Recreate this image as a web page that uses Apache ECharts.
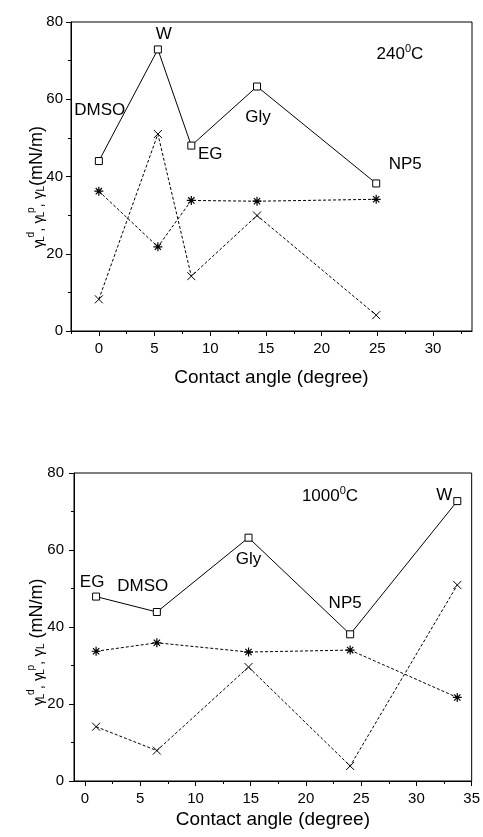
<!doctype html>
<html>
<head>
<meta charset="utf-8">
<title></title>
<script src="https://cdn.jsdelivr.net/npm/echarts@6/dist/echarts.min.js"></script>
<style>body{margin:0;background:#fff}</style>
</head>
<body>
<div id="chart" style="width:483px;height:837px;"></div>
<script>
// 240 C panel
var solvents240 = ['DMSO', 'W', 'EG', 'Gly', 'NP5'];
var angle240 = [0, 5.3, 8.3, 14.2, 24.9];
var total240 = [44.0, 72.9, 48.0, 63.3, 38.2];
var disp240 = [36.2, 21.8, 33.8, 33.6, 34.1];
var polar240 = [8.2, 51.0, 14.2, 29.9, 4.1];

// 1000 C panel
var solvents1000 = ['EG', 'DMSO', 'Gly', 'NP5', 'W'];
var angle1000 = [1.0, 6.5, 14.8, 24.0, 33.7];
var total1000 = [47.9, 43.9, 63.2, 38.1, 72.7];
var disp1000 = [33.7, 35.9, 33.5, 34.0, 21.7];
var polar1000 = [14.1, 7.9, 29.6, 3.9, 50.9];

var xMajor240 = [0, 5, 10, 15, 20, 25, 30];
var xMinor240 = [-2.5, 2.5, 7.5, 12.5, 17.5, 22.5, 27.5, 32.5];
var xMajor1000 = [0, 5, 10, 15, 20, 25, 30, 35];
var xMinor1000 = [2.5, 7.5, 12.5, 17.5, 22.5, 27.5, 32.5];

// label offsets (px) of the solvent names from their points
var labelOff240 = {DMSO: [1, -51], W: [6, -15], EG: [19, 9], Gly: [1, 31], NP5: [29, -19]};
var labelOff1000 = {EG: [-4, -14], DMSO: [-14, -26], Gly: [0, 22], NP5: [-5, -31], W: [-13, -6]};

var FONT = '"Liberation Sans", Arial, sans-serif';
var STAR = 'path://M5 0L5 10M0 5L10 5M1.5 1.5L8.5 8.5M8.5 1.5L1.5 8.5';
var CROSS = 'path://M0 0L10 10M10 0L0 10';

var chart = echarts.init(document.getElementById('chart'));

function makeSeries(xi, yi, names, angles, total, disp, polar, offs) {
    return [
        {
            type: 'line', xAxisIndex: xi, yAxisIndex: yi,
            symbol: 'rect', symbolSize: 7,
            itemStyle: {color: '#fff', borderColor: '#000', borderWidth: 1},
            lineStyle: {color: '#000', width: 1},
            label: {show: true, position: 'inside', formatter: '{b}', color: '#000', fontSize: 17, fontFamily: FONT},
            data: names.map(function (n, i) {
                return {name: n, value: [angles[i], total[i]], label: {offset: offs[n]}};
            }),
            z: 3
        },
        {
            type: 'line', xAxisIndex: xi, yAxisIndex: yi,
            symbol: STAR, symbolSize: 9,
            itemStyle: {color: 'none', borderColor: '#000', borderWidth: 1.2},
            lineStyle: {color: '#000', width: 1, type: [3, 2]},
            data: angles.map(function (a, i) { return [a, disp[i]]; })
        },
        {
            type: 'line', xAxisIndex: xi, yAxisIndex: yi,
            symbol: CROSS, symbolSize: 8,
            itemStyle: {color: 'none', borderColor: '#000', borderWidth: 1},
            lineStyle: {color: '#000', width: 1, type: [3, 2]},
            data: angles.map(function (a, i) { return [a, polar[i]]; })
        }
    ];
}

function mainX(gi, min, max, major, gap, margin) {
    return {
        type: 'value', gridIndex: gi, position: 'bottom', min: min, max: max,
        name: 'Contact angle (degree)', nameLocation: 'middle', nameGap: gap,
        nameTextStyle: {color: '#000', fontSize: 19, fontFamily: FONT},
        axisLine: {show: true, onZero: false, lineStyle: {color: '#000', width: 1}},
        axisTick: {show: true, customValues: major, length: 5, lineStyle: {color: '#000'}},
        axisLabel: {customValues: major, color: '#000', fontSize: 15, fontFamily: FONT, margin: margin},
        splitLine: {show: false}
    };
}

function minorX(gi, min, max, minor) {
    return {
        type: 'value', gridIndex: gi, position: 'bottom', min: min, max: max,
        axisLine: {show: false, onZero: false},
        axisTick: {show: true, customValues: minor, length: 3, lineStyle: {color: '#000'}},
        axisLabel: {show: false},
        splitLine: {show: false}
    };
}

function yAx(gi, margin) {
    return {
        type: 'value', gridIndex: gi, position: 'left', min: 0, max: 80, interval: 20,
        axisLine: {show: true, onZero: false, lineStyle: {color: '#000', width: 1}},
        axisTick: {show: true, length: 5, lineStyle: {color: '#000'}},
        minorTick: {show: true, splitNumber: 2, length: 3, lineStyle: {color: '#000'}},
        axisLabel: {color: '#000', fontSize: 15, fontFamily: FONT, margin: margin},
        splitLine: {show: false}
    };
}

var titleRich = {
    g: {fontSize: 15, lineHeight: 20, verticalAlign: 'bottom', fontFamily: FONT, fill: '#000'},
    n: {fontSize: 18, lineHeight: 20, verticalAlign: 'bottom', fontFamily: FONT, fill: '#000'},
    s: {fontSize: 10, lineHeight: 10, verticalAlign: 'bottom', width: 3, fontFamily: FONT, fill: '#000'},
    l: {fontSize: 10, lineHeight: 10, verticalAlign: 'bottom', fontFamily: FONT, fill: '#000'},
    u: {fontSize: 10, lineHeight: 10, verticalAlign: 'top', padding: [0, 0, 22, 0], fontFamily: FONT, fill: '#000'}
};
var tempRich = {
    n: {fontSize: 17, lineHeight: 20, verticalAlign: 'bottom', fontFamily: FONT, fill: '#000'},
    u: {fontSize: 11, lineHeight: 11, verticalAlign: 'top', fontFamily: FONT, fill: '#000'}
};

var option = {
    animation: false,
    backgroundColor: '#fff',
    grid: [
        {left: 71, top: 22, width: 401, height: 309, show: true, borderColor: '#000', borderWidth: 1},
        {left: 74, top: 473, width: 399, height: 308, show: true, borderColor: '#000', borderWidth: 1}
    ],
    xAxis: [
        mainX(0, -2.5, 33.5, xMajor240, 37, 10),
        minorX(0, -2.5, 33.5, xMinor240),
        mainX(1, -1, 35, xMajor1000, 29, 10),
        minorX(1, -1, 35, xMinor1000)
    ],
    yAxis: [yAx(0, 8), yAx(1, 10)],
    graphic: [
        {type: 'text', x: 36, y: 187, rotation: Math.PI / 2,
            style: {text: '{g|γ}{s|L}{u|d}{g|, γ}{s|L}{u|p}{g|, γ}{l|L}{n|(mN/m)}', rich: titleRich, align: 'center', verticalAlign: 'middle'}},
        {type: 'text', x: 36, y: 642, rotation: Math.PI / 2,
            style: {text: '{g|γ}{s|L}{u|d}{g|, γ}{s|L}{u|p}{g|, γ}{l|L}{n| (mN/m)}', rich: titleRich, align: 'center', verticalAlign: 'middle'}},
        {type: 'text', x: 400, y: 53,
            style: {text: '{n|240}{u|0}{n|C}', rich: tempRich, align: 'center', verticalAlign: 'middle'}},
        {type: 'text', x: 330, y: 495,
            style: {text: '{n|1000}{u|0}{n|C}', rich: tempRich, align: 'center', verticalAlign: 'middle'}}
    ],
    series: makeSeries(0, 0, solvents240, angle240, total240, disp240, polar240, labelOff240)
        .concat(makeSeries(2, 1, solvents1000, angle1000, total1000, disp1000, polar1000, labelOff1000))
};

chart.setOption(option);
</script>
</body>
</html>
